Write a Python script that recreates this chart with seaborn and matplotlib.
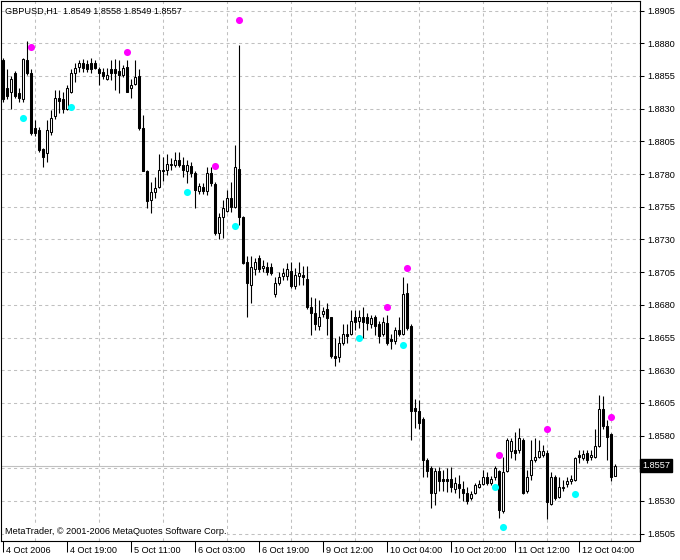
import numpy as np
import pandas as pd
import matplotlib
matplotlib.use("Agg")
import matplotlib.pyplot as plt
import matplotlib.transforms as mtransforms
import seaborn as sns

# ---------------- data ----------------
symbol_title = "GBPUSD,H1  1.8549 1.8558 1.8549 1.8557"
copyright_text = "MetaTrader, \u00a9 2001-2006 MetaQuotes Software Corp."

opens = [
    1.8867, 1.8846, 1.8843, 1.8857, 1.8842, 1.8837, 1.8867, 1.8857, 1.8815, 1.8814,
    1.8799, 1.8796, 1.8812, 1.8824, 1.8838, 1.8837, 1.8830, 1.8843, 1.8857, 1.8862,
    1.8865, 1.8864, 1.8865, 1.8865, 1.8860, 1.8858, 1.8853, 1.8860, 1.8860, 1.8859,
    1.8856, 1.8862, 1.8846, 1.8849, 1.8855, 1.8815, 1.8782, 1.8760, 1.8766, 1.8770,
    1.8783, 1.8783, 1.8787, 1.8787, 1.8791, 1.8787, 1.8782, 1.8786, 1.8781, 1.8767,
    1.8770, 1.8767, 1.8781, 1.8772, 1.8735, 1.8747, 1.8752, 1.8762, 1.8755, 1.8784,
    1.8747, 1.8713, 1.8695, 1.8707, 1.8716, 1.8708, 1.8709, 1.8709, 1.8688, 1.8697,
    1.8702, 1.8702, 1.8706, 1.8694, 1.8702, 1.8703, 1.8700, 1.8678, 1.8674, 1.8664,
    1.8673, 1.8677, 1.8671, 1.8641, 1.8640, 1.8651, 1.8658, 1.8658, 1.8671, 1.8668,
    1.8671, 1.8671, 1.8665, 1.8671, 1.8665, 1.8658, 1.8666, 1.8654, 1.8652, 1.8661,
    1.8658, 1.8689, 1.8664, 1.8601, 1.8599, 1.8593, 1.8561, 1.8555, 1.8536, 1.8553,
    1.8547, 1.8547, 1.8547, 1.8539, 1.8543, 1.8539, 1.8536, 1.8532, 1.8536, 1.8541,
    1.8543, 1.8548, 1.8544, 1.8548, 1.8553, 1.8522, 1.8553, 1.8568, 1.8569, 1.8569,
    1.8577, 1.8538, 1.8550, 1.8561, 1.8564, 1.8565, 1.8567, 1.8528, 1.8548, 1.8533,
    1.8540, 1.8543, 1.8545, 1.8546, 1.8565, 1.8563, 1.8567, 1.8564, 1.8564, 1.8572,
    1.8600, 1.8587, 1.8581, 1.8549,
]
highs = [
    1.8869, 1.8860, 1.8855, 1.8859, 1.8846, 1.8869, 1.8882, 1.8860, 1.8821, 1.8816,
    1.8800, 1.8821, 1.8829, 1.8844, 1.8844, 1.8843, 1.8848, 1.8860, 1.8865, 1.8867,
    1.8868, 1.8867, 1.8869, 1.8867, 1.8862, 1.8861, 1.8861, 1.8867, 1.8868, 1.8867,
    1.8863, 1.8867, 1.8853, 1.8867, 1.8860, 1.8825, 1.8783, 1.8774, 1.8778, 1.8795,
    1.8793, 1.8795, 1.8792, 1.8797, 1.8797, 1.8793, 1.8791, 1.8789, 1.8782, 1.8773,
    1.8773, 1.8785, 1.8785, 1.8774, 1.8750, 1.8760, 1.8768, 1.8774, 1.8802, 1.8879,
    1.8748, 1.8717, 1.8717, 1.8716, 1.8718, 1.8714, 1.8713, 1.8712, 1.8701, 1.8705,
    1.8708, 1.8712, 1.8713, 1.8708, 1.8713, 1.8710, 1.8710, 1.8686, 1.8685, 1.8684,
    1.8678, 1.8681, 1.8671, 1.8655, 1.8656, 1.8665, 1.8665, 1.8676, 1.8676, 1.8676,
    1.8678, 1.8674, 1.8672, 1.8672, 1.8668, 1.8671, 1.8672, 1.8658, 1.8663, 1.8671,
    1.8701, 1.8697, 1.8665, 1.8608, 1.8607, 1.8594, 1.8563, 1.8557, 1.8555, 1.8556,
    1.8554, 1.8555, 1.8556, 1.8548, 1.8550, 1.8545, 1.8541, 1.8538, 1.8544, 1.8546,
    1.8554, 1.8552, 1.8549, 1.8557, 1.8554, 1.8564, 1.8578, 1.8578, 1.8583, 1.8586,
    1.8578, 1.8554, 1.8577, 1.8578, 1.8577, 1.8573, 1.8569, 1.8552, 1.8550, 1.8548,
    1.8546, 1.8548, 1.8550, 1.8564, 1.8569, 1.8569, 1.8569, 1.8569, 1.8585, 1.8611,
    1.8610, 1.8592, 1.8582, 1.8558,
]
lows = [
    1.8835, 1.8837, 1.8830, 1.8838, 1.8835, 1.8835, 1.8856, 1.8810, 1.8809, 1.8797,
    1.8785, 1.8789, 1.8810, 1.8822, 1.8827, 1.8827, 1.8829, 1.8842, 1.8850, 1.8858,
    1.8858, 1.8858, 1.8857, 1.8860, 1.8848, 1.8853, 1.8852, 1.8852, 1.8844, 1.8842,
    1.8854, 1.8843, 1.8838, 1.8848, 1.8814, 1.8782, 1.8754, 1.8750, 1.8762, 1.8769,
    1.8775, 1.8779, 1.8783, 1.8785, 1.8785, 1.8778, 1.8773, 1.8778, 1.8754, 1.8765,
    1.8765, 1.8764, 1.8771, 1.8733, 1.8730, 1.8731, 1.8751, 1.8751, 1.8754, 1.8741,
    1.8711, 1.8671, 1.8681, 1.8703, 1.8705, 1.8705, 1.8703, 1.8703, 1.8686, 1.8695,
    1.8699, 1.8699, 1.8693, 1.8692, 1.8695, 1.8695, 1.8677, 1.8657, 1.8661, 1.8661,
    1.8671, 1.8657, 1.8639, 1.8633, 1.8636, 1.8649, 1.8651, 1.8657, 1.8661, 1.8662,
    1.8655, 1.8661, 1.8662, 1.8657, 1.8651, 1.8656, 1.8649, 1.8646, 1.8650, 1.8656,
    1.8657, 1.8661, 1.8577, 1.8586, 1.8585, 1.8548, 1.8548, 1.8525, 1.8527, 1.8538,
    1.8538, 1.8537, 1.8537, 1.8536, 1.8532, 1.8530, 1.8528, 1.8531, 1.8535, 1.8540,
    1.8542, 1.8542, 1.8542, 1.8546, 1.8517, 1.8521, 1.8552, 1.8563, 1.8561, 1.8567,
    1.8535, 1.8536, 1.8546, 1.8560, 1.8563, 1.8564, 1.8516, 1.8527, 1.8531, 1.8532,
    1.8538, 1.8541, 1.8543, 1.8545, 1.8559, 1.8561, 1.8559, 1.8561, 1.8563, 1.8571,
    1.8585, 1.8561, 1.8545, 1.8549,
]
closes = [
    1.8837, 1.8840, 1.8853, 1.8840, 1.8838, 1.8868, 1.8857, 1.8811, 1.8811, 1.8798,
    1.8793, 1.8814, 1.8823, 1.8838, 1.8836, 1.8830, 1.8846, 1.8857, 1.8861, 1.8865,
    1.8861, 1.8860, 1.8860, 1.8861, 1.8857, 1.8855, 1.8856, 1.8857, 1.8857, 1.8856,
    1.8861, 1.8843, 1.8848, 1.8854, 1.8815, 1.8782, 1.8759, 1.8766, 1.8769, 1.8783,
    1.8782, 1.8788, 1.8788, 1.8791, 1.8787, 1.8783, 1.8787, 1.8781, 1.8768, 1.8771,
    1.8767, 1.8781, 1.8773, 1.8735, 1.8747, 1.8754, 1.8762, 1.8755, 1.8785, 1.8747,
    1.8712, 1.8697, 1.8709, 1.8713, 1.8707, 1.8710, 1.8705, 1.8704, 1.8697, 1.8701,
    1.8704, 1.8707, 1.8694, 1.8703, 1.8704, 1.8701, 1.8678, 1.8674, 1.8665, 1.8671,
    1.8675, 1.8670, 1.8641, 1.8639, 1.8651, 1.8658, 1.8656, 1.8668, 1.8667, 1.8671,
    1.8667, 1.8666, 1.8670, 1.8664, 1.8656, 1.8667, 1.8651, 1.8652, 1.8661, 1.8658,
    1.8688, 1.8662, 1.8599, 1.8599, 1.8590, 1.8561, 1.8553, 1.8536, 1.8553, 1.8545,
    1.8545, 1.8545, 1.8541, 1.8544, 1.8540, 1.8536, 1.8530, 1.8535, 1.8542, 1.8543,
    1.8548, 1.8544, 1.8547, 1.8555, 1.8523, 1.8552, 1.8577, 1.8576, 1.8567, 1.8578,
    1.8536, 1.8548, 1.8561, 1.8564, 1.8568, 1.8568, 1.8529, 1.8548, 1.8532, 1.8541,
    1.8541, 1.8545, 1.8547, 1.8563, 1.8564, 1.8566, 1.8561, 1.8565, 1.8572, 1.8600,
    1.8587, 1.8579, 1.8548, 1.8557,
]

# fractal-style markers (bar index, price)
upper_bars = [7, 31, 53, 59, 96, 101, 124, 136, 152]
upper_prices = [1.8877, 1.8873, 1.8786, 1.8898, 1.8678, 1.8708, 1.8565, 1.8585, 1.8594]
lower_bars = [5, 17, 46, 58, 89, 100, 123, 125, 143]
lower_prices = [1.8823, 1.8831, 1.8766, 1.8740, 1.8655, 1.8649, 1.8541, 1.8510, 1.8535]

time_labels = ["4 Oct 2006", "4 Oct 19:00", "5 Oct 11:00", "6 Oct 03:00", "6 Oct 19:00",
               "9 Oct 12:00", "10 Oct 04:00", "10 Oct 20:00", "11 Oct 12:00", "12 Oct 04:00"]
price_ticks = [1.8505, 1.8530, 1.8555, 1.8580, 1.8605, 1.8630, 1.8655, 1.8680, 1.8705,
               1.8730, 1.8755, 1.8780, 1.8805, 1.8830, 1.8855, 1.8880, 1.8905]
last_price = 1.8557

# ---------------- style ----------------
sns.set_theme(style="white")
plt.rcParams["font.family"] = ["Liberation Sans", "DejaVu Sans"]

df = pd.DataFrame({"open": opens, "high": highs, "low": lows, "close": closes})
df["bar"] = np.arange(len(df))
df["bottom"] = df[["open", "close"]].min(axis=1)
df["height"] = (df["close"] - df["open"]).abs()
df["bull"] = df["close"] >= df["open"]

W, H = 680, 560
fig = plt.figure(figsize=(W / 100, H / 100), dpi=100, facecolor="white")
ax = fig.add_axes([1 / W, 19 / H, 639 / W, 540 / H])
ax.set_facecolor("white")

grid_kw = dict(color="#c0c0c0", linestyle=(0, (3, 3)), linewidth=0.75)

# last price line
ax.axhline(last_price, color="#c0c0c0", linewidth=0.8, zorder=1)

# wicks
ax.vlines(df["bar"], df["low"], df["high"], color="black", linewidth=0.8, zorder=3)
# bodies
bull = df[df["bull"]]
bear = df[~df["bull"]]
ax.bar(bull["bar"], bull["height"], bottom=bull["bottom"], width=0.72,
       color="white", edgecolor="black", linewidth=0.75, zorder=4)
ax.bar(bear["bar"], bear["height"], bottom=bear["bottom"], width=0.72,
       color="black", edgecolor="black", linewidth=0.75, zorder=4)

# markers
up_df = pd.DataFrame({"bar": upper_bars, "price": upper_prices})
dn_df = pd.DataFrame({"bar": lower_bars, "price": lower_prices})
sns.scatterplot(data=up_df, x="bar", y="price", color="#ff00ff", s=26,
                linewidth=0, ax=ax, zorder=5, legend=False)
sns.scatterplot(data=dn_df, x="bar", y="price", color="#00ffff", s=26,
                linewidth=0, ax=ax, zorder=5, legend=False)

# axes ranges
ax.set_xlim(-0.5, 159.25)
ax.set_ylim(1.84994, 1.89123)
ax.set_xlabel("")
ax.set_ylabel("")

# y axis on right; the tick label hidden behind the last-price box is left blank
ax.yaxis.tick_right()
ax.set_yticks(price_ticks)
ax.set_yticklabels(["" if abs(p - last_price) < 0.0005 else f"{p:.4f}" for p in price_ticks])
ax.tick_params(axis="y", which="major", direction="out", length=3, width=0.75,
               pad=2, labelsize=6.6, colors="black", right=True, left=False)
ax.grid(True, axis="y", which="major", **grid_kw)

# x axis
xt = list(range(0, len(df), 16))
ax.set_xticks(xt)
ax.set_xticklabels(time_labels)
ax.set_xticks(list(range(8, 160, 8)), minor=True)
ax.tick_params(axis="x", which="minor", length=0)
ax.tick_params(axis="x", which="major", direction="out", length=8, width=0.75,
               pad=-4.5, labelsize=6.6, colors="black", bottom=True)
ax.grid(True, axis="x", which="minor", **grid_kw)
ax.grid(False, axis="x", which="major")
offset = mtransforms.ScaledTranslation(2.5 / 72, 0, fig.dpi_scale_trans)
for lbl in ax.get_xticklabels():
    lbl.set_horizontalalignment("left")
    lbl.set_transform(lbl.get_transform() + offset)

for sp in ax.spines.values():
    sp.set_color("black")
    sp.set_linewidth(0.8)
    sp.set_visible(True)

# texts
ax.text(4 / 639, 1 - 10 / 540, symbol_title, transform=ax.transAxes,
        fontsize=6.6, ha="left", va="center", color="black", zorder=6)
ax.text(4 / 639, 10 / 540, copyright_text, transform=ax.transAxes,
        fontsize=6.6, ha="left", va="center", color="black", zorder=6,
        bbox=dict(boxstyle="square,pad=0.1", fc="white", ec="none"))

trans = mtransforms.blended_transform_factory(ax.transAxes, ax.transData)
ax.text(1.0 + 2 / 639, last_price, f"{last_price:.4f}", transform=trans,
        fontsize=6.6, ha="left", va="center", color="white", clip_on=False,
        bbox=dict(boxstyle="square,pad=0.25", fc="black", ec="black"), zorder=7)

fig.savefig("out.png", dpi=100, facecolor="white")
